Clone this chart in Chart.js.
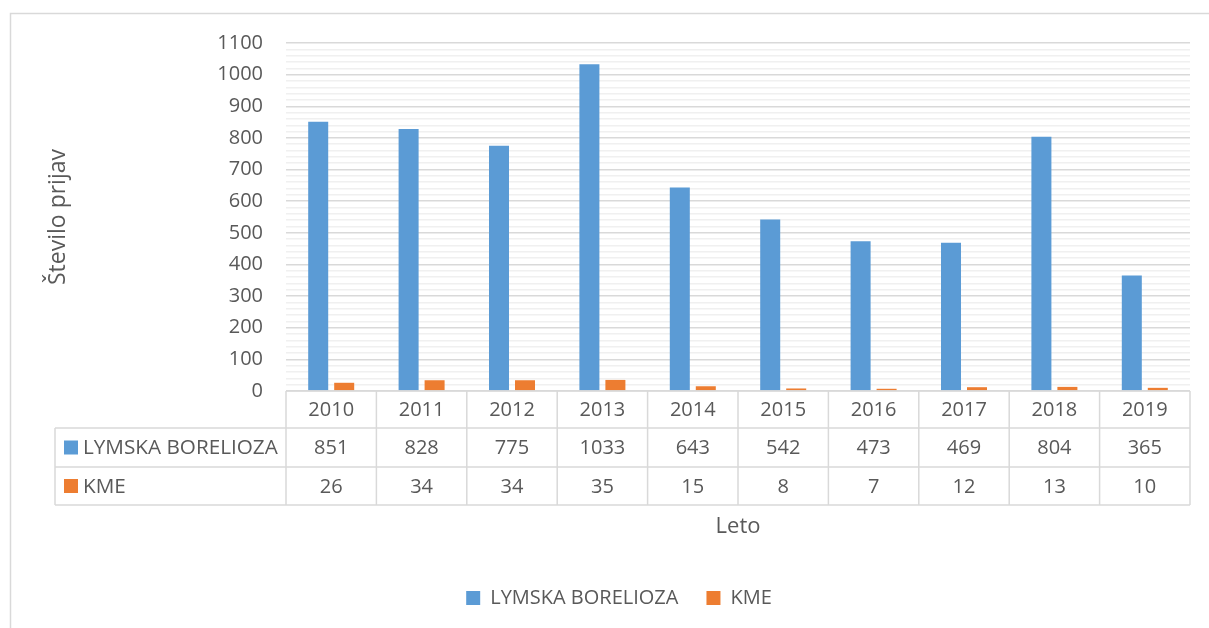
<!DOCTYPE html>
<html>
<head>
<meta charset="utf-8">
<script src="https://cdn.jsdelivr.net/npm/chart.js@4.4.4/dist/chart.umd.min.js"></script>
<style>
  html, body { margin: 0; padding: 0; background: #fff; overflow: hidden; }
  canvas { display: block; }
</style>
</head>
<body>
<canvas id="chart" width="1209" height="628"></canvas>
<script>
// data
const years = ['2010', '2011', '2012', '2013', '2014', '2015', '2016', '2017', '2018', '2019']
const lymska = [851, 828, 775, 1033, 643, 542, 473, 469, 804, 365]
const kme = [26, 34, 34, 35, 15, 8, 7, 12, 13, 10]
const seriesNames = ['LYMSKA BORELIOZA', 'KME']
const yMax = 1100
const yMajorStep = 100
const yMinorStep = 20

const FONT = "'Open Sans', 'Liberation Sans', sans-serif"
const TEXT = '#595959'
const LINE = '#d9d9d9'

// outer frame of the chart box
const frame = {
    id: 'frame',
    beforeDraw(chart) {
        const ctx = chart.ctx
        ctx.save()
        ctx.fillStyle = '#fff'
        ctx.fillRect(0, 0, chart.width, chart.height)
        ctx.strokeStyle = LINE
        ctx.lineWidth = 1.5
        ctx.strokeRect(10.5, 13.5, 1400, 800)
        ctx.restore()
    }
}

// fixed legend height so it sits at the bottom of the box
const legendSize = {
    id: 'legendSize',
    beforeInit(chart) {
        if (!chart.legend) return
        const fit = chart.legend.fit
        chart.legend.fit = function () {
            fit.call(this)
            this.height = 68
        }
    },
    afterLayout(chart) {
        if (!chart.legend) return
        chart.legend.left += 19
        chart.legend.right += 19
    }
}

// data table under the plot, columns follow the x scale
const dataTable = {
    id: 'dataTable',
    afterDraw(chart) {
        const { ctx, chartArea, scales: { x } } = chart
        const n = chart.data.labels.length
        const colW = (x.right - x.left) / n
        const top = chartArea.bottom
        const headBottom = top + 37
        const rows = [headBottom, headBottom + 39, headBottom + 77]
        const tableLeft = 55

        ctx.save()
        ctx.strokeStyle = LINE
        ctx.lineWidth = 1.5

        ctx.beginPath()
        // top of header row
        ctx.moveTo(x.left, top)
        ctx.lineTo(x.right, top)
        // row lines
        rows.forEach(y => {
            ctx.moveTo(tableLeft, y)
            ctx.lineTo(x.right, y)
        })
        // column lines
        for (let i = 0; i <= n; i++) {
            const cx = x.left + i * colW
            ctx.moveTo(cx, top)
            ctx.lineTo(cx, rows[2])
        }
        ctx.moveTo(tableLeft, rows[0])
        ctx.lineTo(tableLeft, rows[2])
        ctx.stroke()

        ctx.fillStyle = TEXT
        ctx.font = '20px ' + FONT
        ctx.textAlign = 'center'
        ctx.textBaseline = 'middle'
        chart.data.labels.forEach((lab, i) => {
            ctx.fillText(lab, x.getPixelForValue(i), (top + headBottom) / 2 + 1)
        })

        chart.data.datasets.forEach((ds, r) => {
            const y0 = rows[r]
            const y1 = rows[r + 1]
            const cy = (y0 + y1) / 2 + 1
            ctx.font = '20px ' + FONT
            ds.data.forEach((v, i) => {
                ctx.textAlign = 'center'
                ctx.fillStyle = TEXT
                ctx.fillText(String(v), x.getPixelForValue(i), cy)
            })
            ctx.fillStyle = ds.backgroundColor
            ctx.fillRect(64, cy - 8, 14, 14)
            ctx.fillStyle = TEXT
            ctx.textAlign = 'left'
            ctx.font = '20.7px ' + FONT
            ctx.fillText(ds.label, 83, cy)
        })
        ctx.restore()
    }
}

new Chart(document.getElementById('chart'), {
    type: 'bar',
    data: {
        labels: years,
        datasets: [
            {
                label: seriesNames[0],
                data: lymska,
                backgroundColor: '#5b9bd5',
                categoryPercentage: 0.575,
                barPercentage: 0.77
            },
            {
                label: seriesNames[1],
                data: kme,
                backgroundColor: '#ed7d31',
                categoryPercentage: 0.575,
                barPercentage: 0.77
            }
        ]
    },
    options: {
        responsive: false,
        animation: false,
        layout: {
            padding: { left: 10, right: 19, top: 43, bottom: 0 }
        },
        plugins: {
            tooltip: { enabled: false },
            legend: {
                position: 'bottom',
                labels: {
                    boxWidth: 14,
                    boxHeight: 14,
                    padding: 28,
                    color: TEXT,
                    font: { family: FONT, size: 20 }
                }
            }
        },
        scales: {
            x: {
                grid: { display: false },
                border: { display: false },
                ticks: { display: false },
                title: {
                    display: true,
                    text: 'Leto',
                    color: TEXT,
                    font: { family: FONT, size: 22 },
                    padding: { top: 0, bottom: 20 }
                },
                afterFit(scale) {
                    scale.height = 169
                }
            },
            y: {
                min: 0,
                max: yMax,
                border: { display: false },
                grid: {
                    drawTicks: false,
                    lineWidth: 1.5,
                    color: c => (c.tick && c.tick.value % yMajorStep === 0) ? LINE : '#f0f0f0'
                },
                ticks: {
                    stepSize: yMinorStep,
                    autoSkip: false,
                    padding: 23,
                    color: TEXT,
                    font: { family: FONT, size: 20 },
                    callback: v => v % yMajorStep === 0 ? v : ''
                },
                title: {
                    display: true,
                    text: 'Število prijav',
                    color: TEXT,
                    font: { family: FONT, size: 23 },
                    padding: { top: 35, bottom: 0 }
                },
                afterFit(scale) {
                    scale.width = 276
                }
            }
        }
    },
    plugins: [frame, legendSize, dataTable]
})
</script>
</body>
</html>
